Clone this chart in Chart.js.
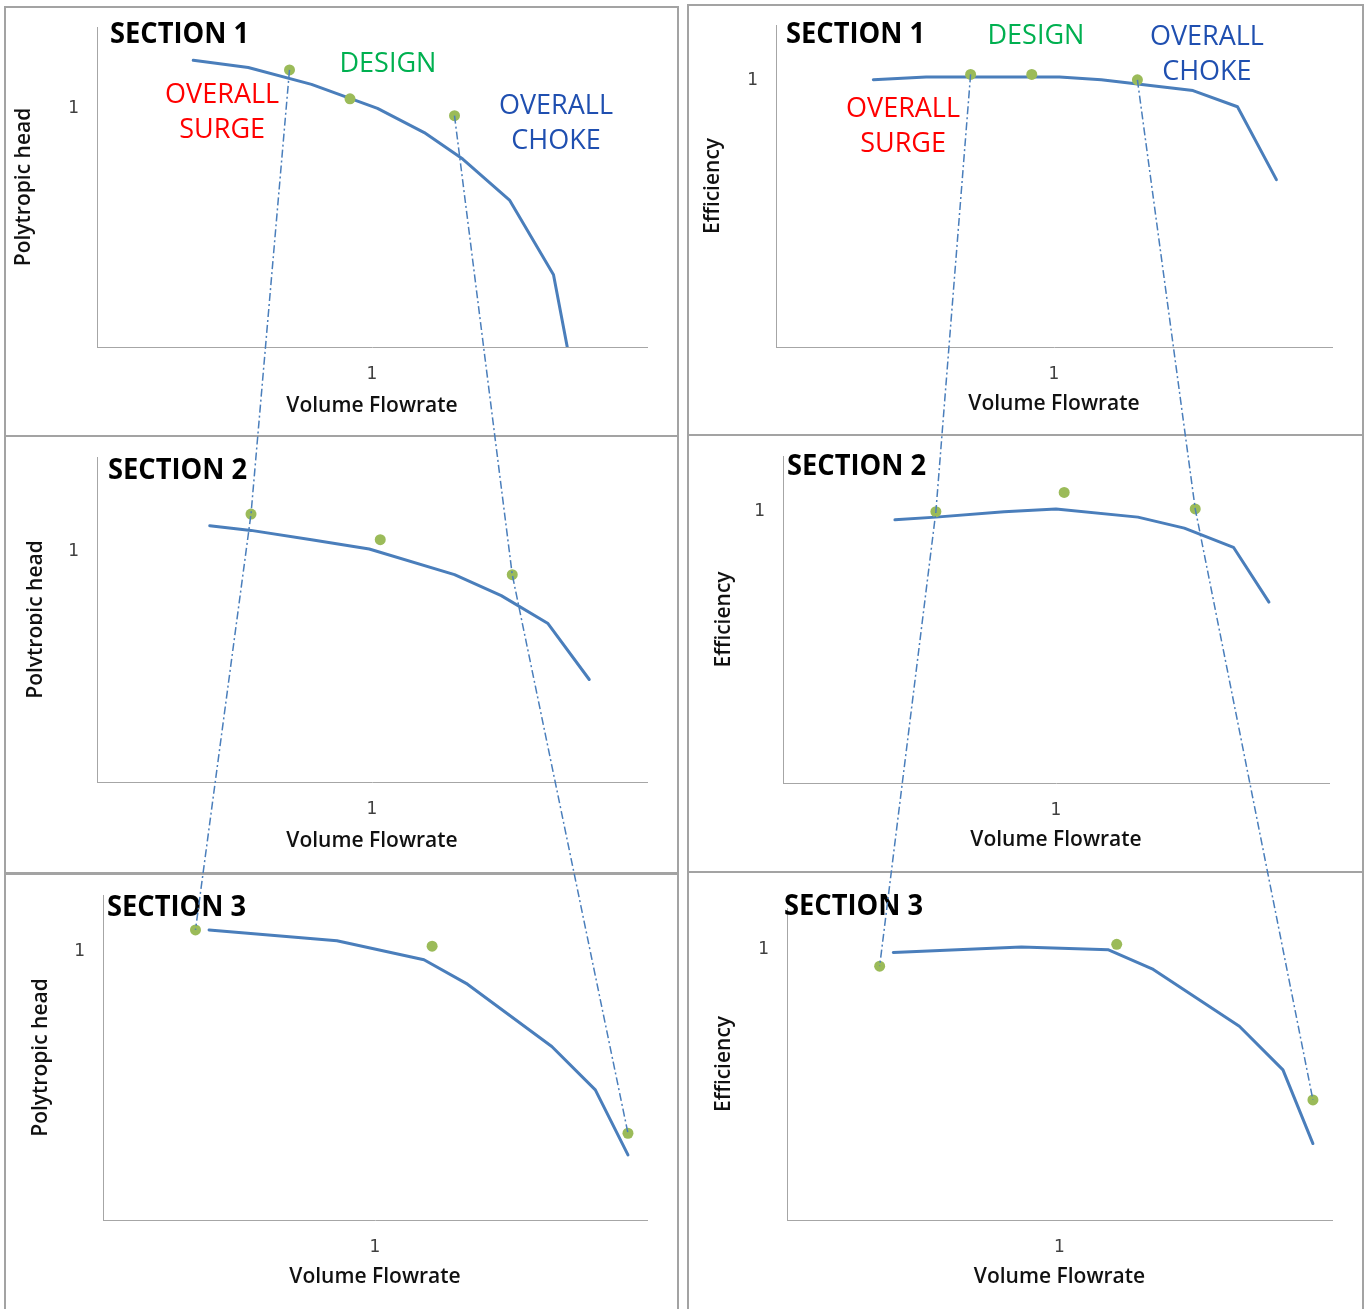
<!DOCTYPE html>
<html>
<head>
<meta charset="utf-8">
<title>Compressor sections – head and efficiency maps</title>
<script src="https://cdn.jsdelivr.net/npm/chart.js@4.4.1/dist/chart.umd.min.js"></script>
<style>
  html, body { margin: 0; padding: 0; background: #fff; }
  body { width: 1364px; height: 1309px; position: relative; overflow: hidden; }
  canvas.panel { position: absolute; }
  .rule { position: absolute; background: #a3a3a3; }
  #links { position: absolute; left: 0; top: 0; pointer-events: none; }
</style>
</head>
<body>
<canvas id="links" width="1364" height="1309"></canvas>
<script>
// ---------- data (normalised flow / head / efficiency) ----------
// Section 1
const sec1HeadFlow  = [0.35, 0.55, 0.78, 1.02, 1.19, 1.33, 1.50, 1.66, 1.71];
const sec1Head      = [1.19, 1.16, 1.09, 0.99, 0.89, 0.78, 0.61, 0.30, 0.00];
const sec1EffFlow   = [0.35, 0.54, 1.02, 1.17, 1.50, 1.66, 1.80];
const sec1Eff       = [0.99, 1.00, 1.00, 0.99, 0.95, 0.89, 0.62];
// Section 2
const sec2HeadFlow  = [0.41, 0.56, 0.78, 0.99, 1.30, 1.47, 1.64, 1.79];
const sec2Head      = [1.10, 1.08, 1.04, 1.00, 0.89, 0.80, 0.68, 0.44];
const sec2EffFlow   = [0.41, 0.56, 0.81, 1.00, 1.30, 1.47, 1.65, 1.78];
const sec2Eff       = [0.96, 0.97, 0.99, 1.00, 0.97, 0.93, 0.86, 0.66];
// Section 3
const sec3HeadFlow  = [0.39, 0.86, 1.18, 1.34, 1.65, 1.81, 1.93];
const sec3Head      = [1.07, 1.03, 0.96, 0.87, 0.64, 0.48, 0.24];
const sec3EffFlow   = [0.39, 0.86, 1.18, 1.34, 1.66, 1.82, 1.93];
const sec3Eff       = [0.98, 1.00, 0.99, 0.92, 0.71, 0.55, 0.28];

// Operating points per section: [overall surge, design, overall choke]
const sec1PointFlow = [0.70, 0.92, 1.30];
const sec1PointHead = [1.15, 1.03, 0.96];
const sec1PointEff  = [1.01, 1.01, 0.99];
const sec2PointFlow = [0.56, 1.03, 1.51];
const sec2PointHead = [1.15, 1.04, 0.89];
const sec2PointEff  = [0.99, 1.06, 1.00];
const sec3PointFlow = [0.34, 1.21, 1.93];
const sec3PointHead = [1.07, 1.01, 0.32];
const sec3PointEff  = [0.93, 1.01, 0.44];

const xTickValues = [1];
const yTickValues = [1];
const SURGE = 0, CHOKE = 2;

// ---------- text labels on the section 1 charts (data coordinates) ----------
const headNotes = [
  { lines: ['OVERALL', 'SURGE'], x: 0.455, y: 1.054, color: '#ff0000' },
  { lines: ['DESIGN'],           x: 1.058, y: 1.183, color: '#00b050' },
  { lines: ['OVERALL', 'CHOKE'], x: 1.669, y: 1.008, color: '#1f4fb0' }
];
const effNotes = [
  { lines: ['OVERALL', 'SURGE'], x: 0.457, y: 0.889, color: '#ff0000' },
  { lines: ['DESIGN'],           x: 0.935, y: 1.159, color: '#00b050' },
  { lines: ['OVERALL', 'CHOKE'], x: 1.550, y: 1.156, color: '#1f4fb0' }
];

// ---------- panel layout ----------
const PANELS = [
  { rect: [5, 7, 674, 429],   pad: { left: 6,  top: 20, right: 32, bottom: 17 }, yW: 86, xH: 72, yMax: 1.328,
    yTitle: 'Polytropic head', section: 'SECTION 1', secOff: [13, 8],
    flow: sec1HeadFlow, val: sec1Head, pFlow: sec1PointFlow, pVal: sec1PointHead, notes: headNotes },
  { rect: [5, 436, 674, 438], pad: { left: 18, top: 21, right: 32, bottom: 20 }, yW: 74, xH: 72, yMax: 1.395,
    yTitle: 'Polytropic head', section: 'SECTION 2', secOff: [11, 14], titleClipRight: 37,
    flow: sec2HeadFlow, val: sec2Head, pFlow: sec2PointFlow, pVal: sec2PointHead, notes: [] },
  { rect: [5, 874, 674, 440], pad: { left: 23, top: 21, right: 32, bottom: 24 }, yW: 75, xH: 70, yMax: 1.199,
    yTitle: 'Polytropic head', section: 'SECTION 3', secOff: [4, 13],
    flow: sec3HeadFlow, val: sec3Head, pFlow: sec3PointFlow, pVal: sec3PointHead, notes: [] },
  { rect: [688, 5, 675, 430], pad: { left: 12, top: 20, right: 31, bottom: 18 }, yW: 76, xH: 70, yMax: 1.193,
    yTitle: 'Efficiency', section: 'SECTION 1', secOff: [10, 10],
    flow: sec1EffFlow, val: sec1Eff, pFlow: sec1PointFlow, pVal: sec1PointEff, notes: effNotes },
  { rect: [688, 435, 675, 437], pad: { left: 23, top: 21, right: 34, bottom: 19 }, yW: 72, xH: 70, yMax: 1.193,
    yTitle: 'Efficiency', section: 'SECTION 2', secOff: [4, 11],
    flow: sec2EffFlow, val: sec2Eff, pFlow: sec2PointFlow, pVal: sec2PointEff, notes: [] },
  { rect: [688, 872, 675, 442], pad: { left: 23, top: 36, right: 31, bottom: 24 }, yW: 76, xH: 70, yMax: 1.143,
    yTitle: 'Efficiency', section: 'SECTION 3', secOff: [-3, -1],
    flow: sec3EffFlow, val: sec3Eff, pFlow: sec3PointFlow, pVal: sec3PointEff, notes: [] }
];

// Panel frame lines: [left, top, width, height]
const RULES = [
  [5, 6, 674, 2], [5, 435, 674, 2], [5, 872, 674, 3], [4, 6, 2, 1310], [677, 6, 2, 1310],
  [687, 4, 677, 2], [687, 434, 677, 2], [687, 871, 677, 2], [687, 4, 2, 1310], [1362, 4, 2, 1310]
];
RULES.forEach(r => {
  const d = document.createElement('div');
  d.className = 'rule';
  Object.assign(d.style, { left: r[0] + 'px', top: r[1] + 'px', width: r[2] + 'px', height: r[3] + 'px' });
  document.body.insertBefore(d, document.getElementById('links'));
});

// Section heading + coloured operating-point captions
const notesPlugin = {
  id: 'sectionNotes',
  afterDatasetsDraw(chart, args, opts) {
    const { ctx, chartArea, scales: { x, y } } = chart;
    ctx.save();
    ctx.fillStyle = '#000';
    ctx.font = '700 29px "Open Sans", sans-serif';
    ctx.textAlign = 'left';
    ctx.textBaseline = 'middle';
    ctx.fillText(opts.section, chartArea.left + opts.offset[0], chartArea.top + opts.offset[1], 139);
    ctx.font = '400 27px "Open Sans", sans-serif';
    ctx.textAlign = 'center';
    for (const n of opts.notes) {
      ctx.fillStyle = n.color;
      n.lines.forEach((t, i) => ctx.fillText(t, x.getPixelForValue(n.x), y.getPixelForValue(n.y) + 2 + i * 35.5));
    }
    ctx.restore();
  }
};

// Crops the lower edge of the rotated axis title with a narrow blank strip
const titleClipPlugin = {
  id: 'titleClip',
  beforeDraw(chart, args, opts) {
    if (opts.right == null) return;
    const { ctx, width, height } = chart;
    ctx.save();
    ctx.beginPath();
    ctx.rect(0, 0, opts.right, height);
    ctx.rect(opts.right + 12, 0, width - opts.right - 12, height);
    ctx.clip();
  },
  beforeDatasetsDraw(chart, args, opts) {
    if (opts.right == null) return;
    chart.ctx.restore();
  }
};

const titleFont = { family: '"Open Sans", sans-serif', size: 21, weight: '600', lineHeight: 1.2 };
const tickFont  = { family: '"DejaVu Sans", sans-serif', size: 17 };

const charts = PANELS.map(p => {
  const cv = document.createElement('canvas');
  cv.className = 'panel';
  cv.width = p.rect[2];
  cv.height = p.rect[3];
  cv.style.left = p.rect[0] + 'px';
  cv.style.top = p.rect[1] + 'px';
  document.body.insertBefore(cv, document.getElementById('links'));

  return new Chart(cv, {
    type: 'scatter',
    data: {
      datasets: [
        {
          data: p.flow.map((f, i) => ({ x: f, y: p.val[i] })),
          showLine: true, borderColor: '#4a7ebb', borderWidth: 3, pointRadius: 0,
          tension: 0, order: 2, borderCapStyle: 'round', borderJoinStyle: 'round'
        },
        {
          data: p.pFlow.map((f, i) => ({ x: f, y: p.pVal[i] })),
          showLine: false, pointRadius: 5.5, pointBorderWidth: 0,
          pointBackgroundColor: '#9bbb59', backgroundColor: '#9bbb59', order: 1
        }
      ]
    },
    options: {
      responsive: false, animation: false, events: [],
      layout: { padding: p.pad },
      plugins: {
        legend: { display: false }, tooltip: { enabled: false },
        sectionNotes: { section: p.section, offset: p.secOff, notes: p.notes },
        titleClip: { right: p.titleClipRight }
      },
      scales: {
        x: {
          type: 'linear', min: 0, max: 2,
          afterBuildTicks: s => { s.ticks = xTickValues.map(v => ({ value: v })); },
          afterFit: s => { s.height = p.xH; s.paddingLeft = 0; s.paddingRight = 0; },
          grid: { display: false, drawTicks: false },
          border: { display: true, color: '#a6a6a6', width: 1 },
          ticks: { padding: 17, color: '#404040', font: tickFont, maxRotation: 0 },
          title: { display: true, text: 'Volume Flowrate', color: '#111', font: titleFont, padding: 0 }
        },
        y: {
          type: 'linear', min: 0, max: p.yMax,
          afterBuildTicks: s => { s.ticks = yTickValues.map(v => ({ value: v })); },
          afterFit: s => { s.width = p.yW; s.paddingTop = 0; s.paddingBottom = 0; },
          grid: { display: false, drawTicks: false },
          border: { display: true, color: '#a6a6a6', width: 1 },
          ticks: { padding: 18, labelOffset: 3, color: '#404040', font: tickFont },
          title: { display: true, text: p.yTitle, color: '#111', font: titleFont, padding: 0 }
        }
      }
    },
    plugins: [titleClipPlugin, notesPlugin]
  });
});

// Dash-dot tie lines joining the surge and choke points through the three sections
function drawTieLines() {
  const ctx = document.getElementById('links').getContext('2d');
  ctx.strokeStyle = '#4a7ebb';
  ctx.lineWidth = 1.5;
  ctx.setLineDash([8, 3, 2, 3]);
  for (const column of [[0, 1, 2], [3, 4, 5]]) {
    for (const k of [SURGE, CHOKE]) {
      ctx.beginPath();
      column.forEach((pi, j) => {
        const el = charts[pi].getDatasetMeta(1).data[k];
        const X = PANELS[pi].rect[0] + el.x;
        const Y = PANELS[pi].rect[1] + el.y;
        if (j === 0) ctx.moveTo(X, Y); else ctx.lineTo(X, Y);
      });
      ctx.stroke();
    }
  }
}
drawTieLines();
</script>
</body>
</html>
